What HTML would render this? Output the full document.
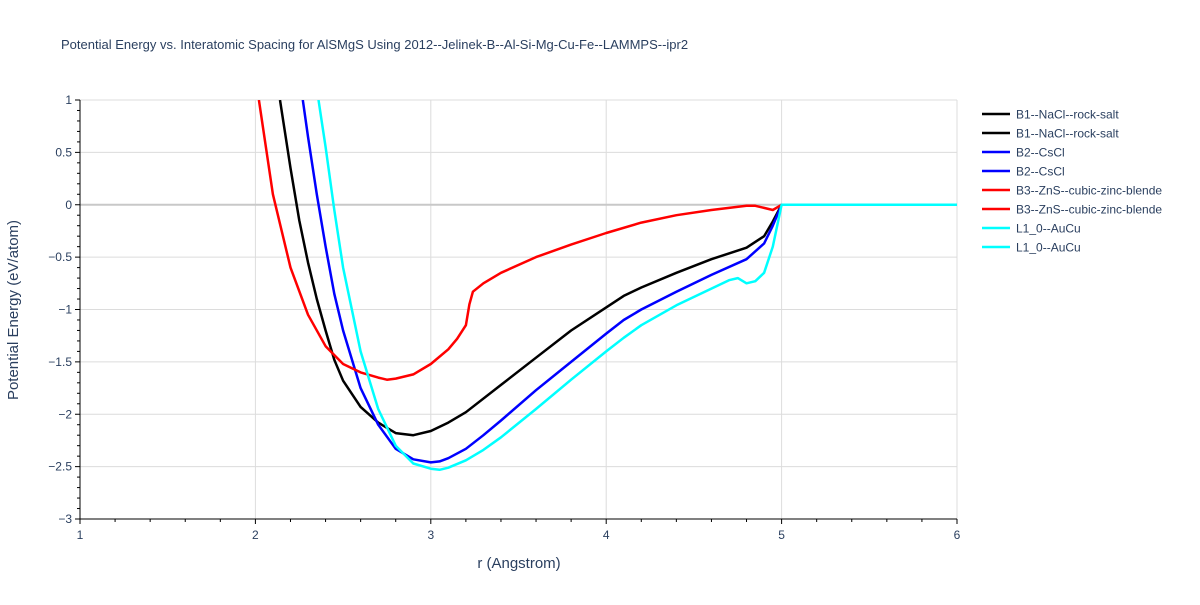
<!DOCTYPE html>
<html><head><meta charset="utf-8"><style>
body{margin:0;background:#fff;font-family:"Liberation Sans",Arial,sans-serif}
svg text{font-family:"Liberation Sans",Arial,sans-serif;fill:#2a3f5f}
</style></head><body>
<svg id="chart" width="1200" height="600">
<text x="61" y="49" font-size="13">Potential Energy vs. Interatomic Spacing for AlSMgS Using 2012--Jelinek-B--Al-Si-Mg-Cu-Fe--LAMMPS--ipr2</text>
<g id="grid"></g><g id="axes"></g><g id="series"></g><g id="legend"></g>
<text x="519" y="568" font-size="15" text-anchor="middle">r (Angstrom)</text>
<text transform="translate(18,310) rotate(-90)" font-size="15" text-anchor="middle">Potential Energy (eV/atom)</text>
</svg>
<script>
const xTicks=[1,2,3,4,5,6];
const yTicks=[1,0.5,0,-0.5,-1,-1.5,-2,-2.5,-3];
const seriesNames=["B1--NaCl--rock-salt","B2--CsCl","B3--ZnS--cubic-zinc-blende","L1_0--AuCu"];
const seriesColors=["#000000","#0000ff","#ff0000","#00ffff"];
const b1R=[2.14,2.2,2.25,2.3,2.35,2.4,2.45,2.5,2.6,2.7,2.8,2.9,3.0,3.1,3.2,3.4,3.6,3.8,4.0,4.1,4.2,4.4,4.6,4.8,4.9,4.95,5.0,6];
const b1E=[1,0.35,-0.15,-0.55,-0.9,-1.2,-1.48,-1.68,-1.93,-2.08,-2.18,-2.2,-2.16,-2.08,-1.98,-1.72,-1.46,-1.2,-0.98,-0.87,-0.79,-0.65,-0.52,-0.41,-0.3,-0.16,0,0];
const b2R=[2.27,2.3,2.35,2.4,2.45,2.5,2.6,2.7,2.8,2.9,3.0,3.05,3.1,3.2,3.3,3.4,3.6,3.8,4.0,4.1,4.2,4.4,4.6,4.8,4.9,4.95,5.0,6];
const b2E=[1,0.65,0.1,-0.4,-0.85,-1.2,-1.75,-2.1,-2.33,-2.43,-2.46,-2.45,-2.42,-2.33,-2.2,-2.06,-1.77,-1.5,-1.23,-1.1,-1.0,-0.83,-0.67,-0.52,-0.37,-0.2,0,0];
const b3R=[2.02,2.1,2.2,2.3,2.4,2.5,2.6,2.7,2.75,2.8,2.9,3.0,3.1,3.15,3.2,3.22,3.24,3.3,3.4,3.6,3.8,4.0,4.2,4.4,4.6,4.8,4.85,4.9,4.95,5.0,6];
const b3E=[1,0.1,-0.6,-1.05,-1.35,-1.52,-1.6,-1.65,-1.67,-1.66,-1.62,-1.52,-1.38,-1.28,-1.15,-0.95,-0.83,-0.75,-0.65,-0.5,-0.38,-0.27,-0.17,-0.1,-0.05,-0.01,-0.01,-0.03,-0.05,0,0];
const l10R=[2.36,2.4,2.45,2.5,2.6,2.7,2.8,2.9,3.0,3.05,3.1,3.2,3.3,3.4,3.6,3.8,4.0,4.1,4.2,4.4,4.6,4.7,4.75,4.8,4.85,4.9,4.95,5.0,6];
const l10E=[1,0.55,-0.05,-0.6,-1.4,-1.95,-2.3,-2.47,-2.52,-2.53,-2.51,-2.44,-2.34,-2.22,-1.95,-1.67,-1.4,-1.27,-1.15,-0.96,-0.8,-0.72,-0.7,-0.75,-0.73,-0.65,-0.4,0,0];
const X0=80,X1=957,Y0=100,Y1=519;
const xs=v=>X0+(v-1)/(6-1)*(X1-X0);
const ys=v=>Y0+(1-v)/(1-(-3))*(Y1-Y0);
const NS="http://www.w3.org/2000/svg";
function mk(t,a,p){const e=document.createElementNS(NS,t);for(const k in a)e.setAttribute(k,a[k]);p.appendChild(e);return e;}
const grid=document.getElementById('grid'),axes=document.getElementById('axes');
for(const t of xTicks){
 const g=mk('line',{x1:xs(t),x2:xs(t),y1:Y0,y2:Y1,stroke:'#dcdcdc','stroke-width':1},grid);
 
 
 const l=mk('text',{x:xs(t),y:Y1+20,'font-size':12,'text-anchor':'middle'},axes);l.textContent=t;
 
 
}
for(const t of yTicks){
 const g=mk('line',{x1:X0,x2:X1,y1:ys(t),y2:ys(t),stroke:t===0?'#c8c8c8':'#dcdcdc','stroke-width':t===0?2:1},grid);
 
 
 const l=mk('text',{x:X0-8,y:ys(t)+4,'font-size':12,'text-anchor':'end'},axes);l.textContent=t===0?'0':(t<0?'\u2212'+(-t):t);
 
 
}
mk('line',{x1:X0,x2:X0,y1:Y0,y2:Y1,stroke:'#000','stroke-width':1},axes);
mk('line',{x1:X0,x2:X1,y1:Y1,y2:Y1,stroke:'#000','stroke-width':1},axes);
for(let i=0;i<=25;i++){const v=1+i*0.2;const big=i%5===0;mk('line',{x1:xs(v),x2:xs(v),y1:Y1,y2:Y1+(big?5:3),stroke:'#000'},axes);}
for(let i=0;i<=40;i++){const v=1-i*0.1;const big=i%5===0;mk('line',{x1:X0,x2:X0-(big?5:3),y1:ys(v),y2:ys(v),stroke:'#000'},axes);}
const ser=document.getElementById('series');
const data=[[b1R,b1E],[b2R,b2E],[b3R,b3E],[l10R,l10E]];
const cp=mk('clipPath',{id:'clip'},ser);mk('rect',{x:X0,y:Y0,width:X1-X0,height:Y1-Y0},cp);
data.forEach((d,i)=>{
 const pts=d[0].map((r,j)=>xs(r).toFixed(1)+','+ys(d[1][j]).toFixed(1)).join(' ');
 const p=mk('polyline',{points:pts,fill:'none',stroke:seriesColors[i],'stroke-width':2.5,'stroke-linejoin':'round','clip-path':'url(#clip)'},ser);
 
 
});
const leg=document.getElementById('legend');
for(let k=0;k<8;k++){
 const i=Math.floor(k/2),y=114+k*19;
 const g=mk('g',{},leg);
 
 
 mk('line',{x1:982,x2:1010,y1:y,y2:y,stroke:seriesColors[i],'stroke-width':2.5},g);
 const t=mk('text',{x:1016,y:y+4.5,'font-size':12},g);t.textContent=seriesNames[i];
}
</script>
</body></html>
